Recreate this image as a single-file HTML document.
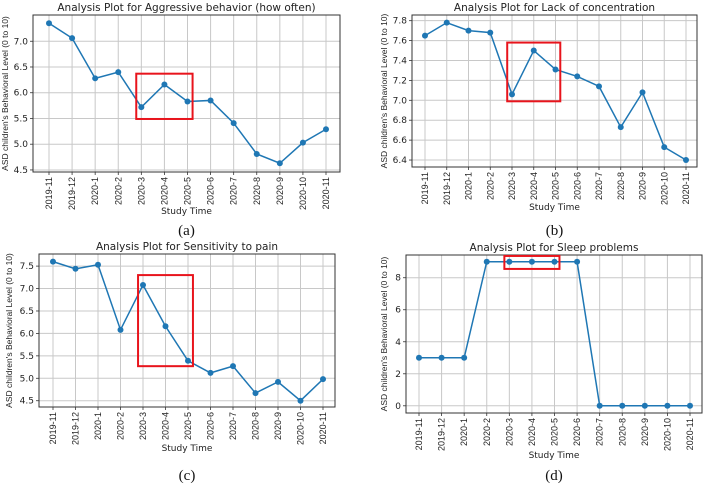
<!DOCTYPE html>
<html><head><meta charset="utf-8"><style>
html,body{margin:0;padding:0;background:#fff;width:708px;height:485px;overflow:hidden}
svg{display:block;font-family:"DejaVu Sans","Liberation Sans",sans-serif}
</style></head><body>
<svg id="fig" width="708" height="485" xmlns="http://www.w3.org/2000/svg"></svg>
<script>
const categories = ["2019-11","2019-12","2020-1","2020-2","2020-3","2020-4","2020-5","2020-6","2020-7","2020-8","2020-9","2020-10","2020-11"];
const aggressiveValues = [7.35,7.06,6.28,6.40,5.72,6.16,5.83,5.85,5.41,4.81,4.63,5.03,5.29];
const concentrationValues = [7.65,7.78,7.70,7.68,7.06,7.50,7.31,7.24,7.14,6.73,7.08,6.53,6.40];
const painValues = [7.60,7.44,7.53,6.08,7.08,6.16,5.39,5.12,5.27,4.67,4.92,4.50,4.98];
const sleepValues = [3,3,3,9,9,9,9,9,0,0,0,0,0];
const aggressiveTicks = [4.5,5.0,5.5,6.0,6.5,7.0];
const concentrationTicks = [6.4,6.6,6.8,7.0,7.2,7.4,7.6,7.8];
const painTicks = [4.5,5.0,5.5,6.0,6.5,7.0,7.5];
const sleepTicks = [0,2,4,6,8];

const NS="http://www.w3.org/2000/svg";
const svg=document.getElementById('fig');
function mk(tag,attrs,parent){const e=document.createElementNS(NS,tag);for(const k in attrs)e.setAttribute(k,attrs[k]);(parent||svg).appendChild(e);return e;}

const panels=[
 {id:'a',title:'Analysis Plot for Aggressive behavior (how often)',vals:aggressiveValues,ticks:aggressiveTicks,dec:1,
  L:33,R:340,T:15,B:172,x0:49,x1:326,ymin:4.46,ymax:7.51,box:[4,6,6.37,5.49],ylx:5,stY:214,capY:235,cap:'(a)'},
 {id:'b',title:'Analysis Plot for Lack of concentration',vals:concentrationValues,ticks:concentrationTicks,dec:1,
  L:412,R:697,T:15,B:167,x0:425,x1:686,ymin:6.33,ymax:7.857,box:[4,6,7.58,6.99],ylx:384,stY:210,capY:235,cap:'(b)'},
 {id:'c',title:'Analysis Plot for Sensitivity to pain',vals:painValues,ticks:painTicks,dec:1,
  L:39,R:335,T:254,B:407,x0:53,x1:323,ymin:4.36,ymax:7.77,box:[4,6,7.30,5.27],ylx:9,stY:451,capY:480,cap:'(c)'},
 {id:'d',title:'Analysis Plot for Sleep problems',vals:sleepValues,ticks:sleepTicks,dec:0,
  L:406,R:702,T:255,B:413,x0:419,x1:690,ymin:-0.45,ymax:9.42,box:[4,6,9.36,8.55],ylx:384,stY:458,capY:480,cap:'(d)'}
];

panels.forEach(p=>{
  const g=mk('g',{});
  
  
  const n=categories.length;
  const xs=i=>p.x0+(p.x1-p.x0)*i/(n-1);
  const ys=v=>p.B-(v-p.ymin)/(p.ymax-p.ymin)*(p.B-p.T);
  const halfBox=(xs(1)-xs(0))*0.22;
  categories.forEach((c,i)=>{
    const l=mk('line',{x1:xs(i),x2:xs(i),y1:p.T,y2:p.B,stroke:'#c8c8c8','stroke-width':1},g);
    
    
    mk('line',{x1:xs(i),x2:xs(i),y1:p.B,y2:p.B+3,stroke:'#333','stroke-width':0.8},g);
    const t=mk('text',{x:0,y:0,'font-size':9,fill:'#222','text-anchor':'end','font-family':'"Liberation Sans",sans-serif',transform:`translate(${xs(i)+3},${p.B+5}) rotate(-90)`},g);
    t.textContent=c;
    
    
  });
  p.ticks.forEach(v=>{
    const l=mk('line',{x1:p.L,x2:p.R,y1:ys(v),y2:ys(v),stroke:'#c8c8c8','stroke-width':1},g);
    
    
    mk('line',{x1:p.L-3,x2:p.L,y1:ys(v),y2:ys(v),stroke:'#333','stroke-width':0.8},g);
    const t=mk('text',{x:p.L-5,y:ys(v)+3,'font-size':9,fill:'#222','text-anchor':'end'},g);
    t.textContent=v.toFixed(p.dec);
    
    
  });
  const fr=mk('rect',{x:p.L,y:p.T,width:p.R-p.L,height:p.B-p.T,fill:'none',stroke:'#333','stroke-width':1},g);
  
  
  const pts=p.vals.map((v,i)=>xs(i)+','+ys(v)).join(' ');
  const pl=mk('polyline',{points:pts,fill:'none',stroke:'#1f77b4','stroke-width':1.5},g);
  
  
  p.vals.forEach((v,i)=>{
    const c=mk('circle',{cx:xs(i),cy:ys(v),r:3,fill:'#1f77b4'},g);
    
    
  });
  const bx=mk('rect',{x:xs(p.box[0])-halfBox,y:ys(p.box[2]),width:xs(p.box[1])-xs(p.box[0])+2*halfBox,height:ys(p.box[3])-ys(p.box[2]),fill:'none',stroke:'#e8141c','stroke-width':2},g);
  
  
  const tt=mk('text',{x:(p.L+p.R)/2,y:p.T-4,'font-size':10.5,fill:'#222','text-anchor':'middle'},g);
  tt.textContent=p.title;
  
  
  const yl=mk('text',{x:0,y:0,'font-size':8.5,fill:'#222','text-anchor':'middle','font-family':'"Liberation Sans",sans-serif',transform:`translate(${p.ylx+3},${(p.T+p.B)/2}) rotate(-90)`},g);
  yl.textContent="ASD children's Behavioral Level (0 to 10)";
  
  
  const xl=mk('text',{x:(p.L+p.R)/2,y:p.stY,'font-size':9,fill:'#222','text-anchor':'middle'},g);
  xl.textContent='Study Time';
  
  
  const cp=mk('text',{x:(p.L+p.R)/2,y:p.capY,'font-size':15,fill:'#111','text-anchor':'middle','font-family':'"Liberation Serif",serif'},g);
  cp.textContent=p.cap;
  
  
});
</script>
</body></html>
